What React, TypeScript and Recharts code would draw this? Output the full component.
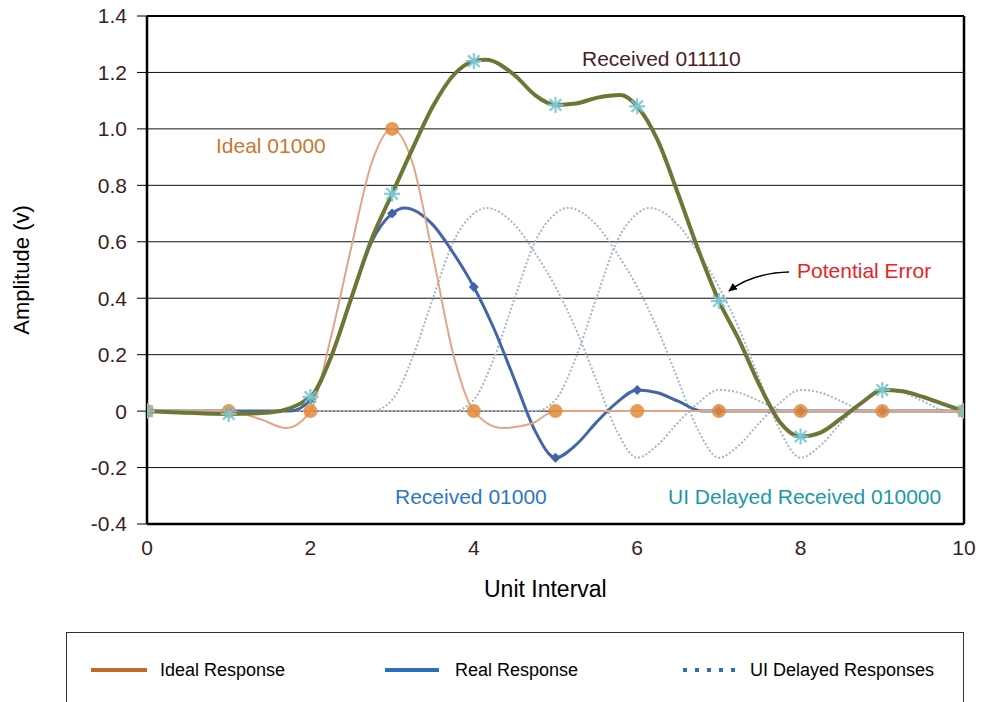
import React from 'react';
import { LineChart, Line, XAxis, YAxis, CartesianGrid, ReferenceLine } from 'recharts';

// ---- axis ticks ----
const xTicks = [0, 2, 4, 6, 8, 10];
const yTicks = [-0.4, -0.2, 0, 0.2, 0.4, 0.6, 0.8, 1.0, 1.2, 1.4];

// ---- Ideal 01000 ----
const idealX = [0, 1, 1.4, 1.7, 2, 2.25, 2.5, 2.75, 3, 3.25, 3.5, 3.75, 4, 4.35, 4.7, 5, 6, 7, 8, 9, 10];
const idealY = [0, 0, -0.03, -0.06, 0, 0.26, 0.58, 0.88, 1.0, 0.88, 0.55, 0.2, 0, -0.06, -0.045, 0, 0, 0, 0, 0, 0];

// ---- Received 01000 (real response) ----
const realX = [0, 1, 1.75, 2, 2.25, 2.5, 2.75, 3, 3.15, 3.5, 3.75, 4, 4.25, 4.5, 4.75, 5, 5.25, 5.5, 5.75, 6, 6.25, 6.5, 6.8, 7, 8, 9, 10];
const realY = [0, 0, 0, 0.04, 0.19, 0.4, 0.6, 0.7, 0.72, 0.66, 0.56, 0.44, 0.29, 0.11, -0.07, -0.165, -0.12, -0.04, 0.03, 0.075, 0.065, 0.035, 0, 0, 0, 0, 0];

// ---- UI delayed received responses ----
const delay1X = [0, 2.75, 3, 3.25, 3.5, 3.75, 4, 4.15, 4.5, 4.75, 5, 5.25, 5.5, 5.75, 6, 6.25, 6.5, 6.75, 7, 7.25, 7.5, 7.8, 8, 9, 10];
const delay1Y = [0, 0, 0.04, 0.19, 0.4, 0.6, 0.7, 0.72, 0.66, 0.56, 0.44, 0.29, 0.11, -0.07, -0.165, -0.12, -0.04, 0.03, 0.075, 0.065, 0.035, 0, 0, 0, 0];
const delay2X = [0, 3.75, 4, 4.25, 4.5, 4.75, 5, 5.15, 5.5, 5.75, 6, 6.25, 6.5, 6.75, 7, 7.25, 7.5, 7.75, 8, 8.25, 8.5, 8.8, 9, 10];
const delay2Y = [0, 0, 0.04, 0.19, 0.4, 0.6, 0.7, 0.72, 0.66, 0.56, 0.44, 0.29, 0.11, -0.07, -0.165, -0.12, -0.04, 0.03, 0.075, 0.065, 0.035, 0, 0, 0];
const delay3X = [0, 4.75, 5, 5.25, 5.5, 5.75, 6, 6.15, 6.5, 6.75, 7, 7.25, 7.5, 7.75, 8, 8.25, 8.5, 8.75, 9, 9.25, 9.5, 9.8, 10];
const delay3Y = [0, 0, 0.04, 0.19, 0.4, 0.6, 0.7, 0.72, 0.66, 0.56, 0.44, 0.29, 0.11, -0.07, -0.165, -0.12, -0.04, 0.03, 0.075, 0.065, 0.035, 0, 0];

// ---- Received 011110 ----
const recvX = [0, 1, 1.5, 2, 2.25, 2.5, 2.75, 3, 3.25, 3.5, 3.75, 4, 4.15, 4.5, 4.75, 5, 5.25, 5.5, 5.8, 6, 6.25, 6.5, 6.75, 7, 7.25, 7.5, 7.75, 8, 8.25, 8.5, 8.75, 9, 9.25, 9.5, 9.75, 10];
const recvY = [0, -0.01, -0.005, 0.05, 0.19, 0.4, 0.61, 0.77, 0.93, 1.08, 1.19, 1.24, 1.245, 1.19, 1.12, 1.085, 1.09, 1.11, 1.12, 1.08, 0.96, 0.77, 0.57, 0.39, 0.25, 0.09, -0.04, -0.09, -0.075, -0.025, 0.03, 0.075, 0.07, 0.05, 0.025, 0];

const toPoints = (xs: number[], ys: number[]) => xs.map((x, i) => ({ x, y: ys[i] }));

const idealData = toPoints(idealX, idealY);
const realData = toPoints(realX, realY);
const delay1Data = toPoints(delay1X, delay1Y);
const delay2Data = toPoints(delay2X, delay2Y);
const delay3Data = toPoints(delay3X, delay3Y);
const recvData = toPoints(recvX, recvY);

const FONT = '"Liberation Sans", Arial, Helvetica, sans-serif';

const isUI = (p: any) => p && Math.abs(p.x - Math.round(p.x)) < 1e-9;

const OrangeDot = (props: any) => {
  const { cx, cy, payload, index } = props;
  if (!isUI(payload) || cx == null) return <g key={`o${index}`} />;
  return <circle key={`o${index}`} cx={cx} cy={cy} r={7} fill="#E3893B" fillOpacity={0.85} />;
};

const BlueDot = (props: any) => {
  const { cx, cy, payload, index } = props;
  if (!isUI(payload) || cx == null) return <g key={`b${index}`} />;
  return (
    <path
      key={`b${index}`}
      d={`M${cx},${cy - 5} L${cx + 5},${cy} L${cx},${cy + 5} L${cx - 5},${cy} Z`}
      fill="#3F64A8"
    />
  );
};

const StarDot = (props: any) => {
  const { cx, cy, payload, index } = props;
  if (!isUI(payload) || cx == null) return <g key={`s${index}`} />;
  const r = 8;
  const d = r * 0.72;
  return (
    <g key={`s${index}`} stroke="#78C6D2" strokeWidth={2.2} strokeOpacity={0.9}>
      <line x1={cx - r} y1={cy} x2={cx + r} y2={cy} />
      <line x1={cx} y1={cy - r} x2={cx} y2={cy + r} />
      <line x1={cx - d} y1={cy - d} x2={cx + d} y2={cy + d} />
      <line x1={cx - d} y1={cy + d} x2={cx + d} y2={cy - d} />
    </g>
  );
};

const fmtY = (v: number) => (Math.abs(v) < 1e-9 ? '0' : v.toFixed(1));

const textBase: React.CSSProperties = {
  position: 'absolute',
  fontFamily: FONT,
  whiteSpace: 'nowrap',
  lineHeight: 1,
};

export default function App() {
  return (
    <div style={{ position: 'relative', width: 985, height: 702, overflow: 'hidden', background: '#fff' }}>
      <style>{'body{margin:0}'}</style>
      <LineChart
        width={985}
        height={702}
        margin={{ top: 16, right: 21, bottom: 138, left: 87 }}
      >
        <CartesianGrid horizontal vertical={false} stroke="#111" strokeWidth={1} />
        <XAxis
          dataKey="x"
          type="number"
          domain={[0, 10]}
          ticks={xTicks}
          height={40}
          tickLine={false}
          tickSize={6}
          tickMargin={10}
          axisLine={{ stroke: '#000', strokeWidth: 2.5 }}
          tick={{ fill: '#3B1E1E', fontSize: 21, fontFamily: FONT }}
          allowDataOverflow
        />
        <YAxis
          type="number"
          domain={[-0.4, 1.4]}
          ticks={yTicks}
          width={60}
          tickSize={10}
          tickMargin={10}
          tickFormatter={fmtY}
          tickLine={{ stroke: '#000', strokeWidth: 1 }}
          axisLine={{ stroke: '#000', strokeWidth: 2.5 }}
          tick={{ fill: '#3B1E1E', fontSize: 21, fontFamily: FONT }}
          allowDataOverflow
        />
        <ReferenceLine x={10} stroke="#000" strokeWidth={2.5} />
        <ReferenceLine y={1.4} stroke="#000" strokeWidth={2} />

        <Line data={delay1Data} dataKey="y" type="monotone" stroke="#A3B6CA" strokeWidth={2} strokeDasharray="2 2" dot={false} isAnimationActive={false} />
        <Line data={delay2Data} dataKey="y" type="monotone" stroke="#A3B6CA" strokeWidth={2} strokeDasharray="2 2" dot={false} isAnimationActive={false} />
        <Line data={delay3Data} dataKey="y" type="monotone" stroke="#A3B6CA" strokeWidth={2} strokeDasharray="2 2" dot={false} isAnimationActive={false} />

        <Line data={realData} dataKey="y" type="monotone" stroke="#4466A8" strokeWidth={3} dot={BlueDot} isAnimationActive={false} />
        <Line data={idealData} dataKey="y" type="monotone" stroke="#E2A588" strokeWidth={2} dot={OrangeDot} isAnimationActive={false} />
        <Line data={recvData} dataKey="y" type="monotone" stroke="#6C7735" strokeWidth={4} dot={StarDot} isAnimationActive={false} />
      </LineChart>

      {/* annotations */}
      <div style={{ ...textBase, left: 582, top: 48, fontSize: 21, color: '#4A1E1E' }}>Received 011110</div>
      <div style={{ ...textBase, left: 216, top: 135, fontSize: 21, color: '#C8772F' }}>Ideal 01000</div>
      <div style={{ ...textBase, left: 395, top: 486, fontSize: 21, color: '#2C77C6' }}>Received 01000</div>
      <div style={{ ...textBase, left: 668, top: 486, fontSize: 21, color: '#1A98A8' }}>UI Delayed Received 010000</div>
      <div style={{ ...textBase, left: 797, top: 260, fontSize: 21, color: '#E8232A' }}>Potential Error</div>
      <div style={{ ...textBase, left: 484, top: 578, fontSize: 23, color: '#000' }}>Unit Interval</div>
      <div
        style={{
          ...textBase,
          left: 22,
          top: 270,
          fontSize: 22,
          color: '#000',
          transform: 'translate(-50%, -50%) rotate(-90deg)',
        }}
      >
        Amplitude (v)
      </div>

      <svg width={985} height={702} style={{ position: 'absolute', left: 0, top: 0, pointerEvents: 'none' }}>
        <defs>
          <marker id="arrowHead" markerWidth="10" markerHeight="10" refX="8" refY="5" orient="auto" markerUnits="userSpaceOnUse">
            <path d="M0,1 L9,5 L0,9 Z" fill="#000" />
          </marker>
        </defs>
        <path d="M789,272 Q752,273 729,291" fill="none" stroke="#000" strokeWidth={1.5} markerEnd="url(#arrowHead)" />
      </svg>

      {/* legend */}
      <div
        style={{
          position: 'absolute',
          left: 66,
          top: 632,
          width: 896,
          height: 100,
          border: '1.5px solid #333',
          fontFamily: FONT,
        }}
      >
        <svg width={896} height={80} style={{ position: 'absolute', left: 0, top: 0 }}>
          <line x1={24} y1={37} x2={80} y2={37} stroke="#C0692A" strokeWidth={4} />
          <line x1={318} y1={37} x2={372} y2={37} stroke="#2B6FBF" strokeWidth={4} />
          <line x1={616} y1={37} x2={676} y2={37} stroke="#2B6FBF" strokeWidth={4} strokeDasharray="4 8" />
        </svg>
        <div style={{ ...textBase, left: 93, top: 28, fontSize: 18, color: '#000' }}>Ideal Response</div>
        <div style={{ ...textBase, left: 388, top: 28, fontSize: 18, color: '#000' }}>Real Response</div>
        <div style={{ ...textBase, left: 683, top: 28, fontSize: 18, color: '#000' }}>UI Delayed Responses</div>
      </div>
    </div>
  );
}
